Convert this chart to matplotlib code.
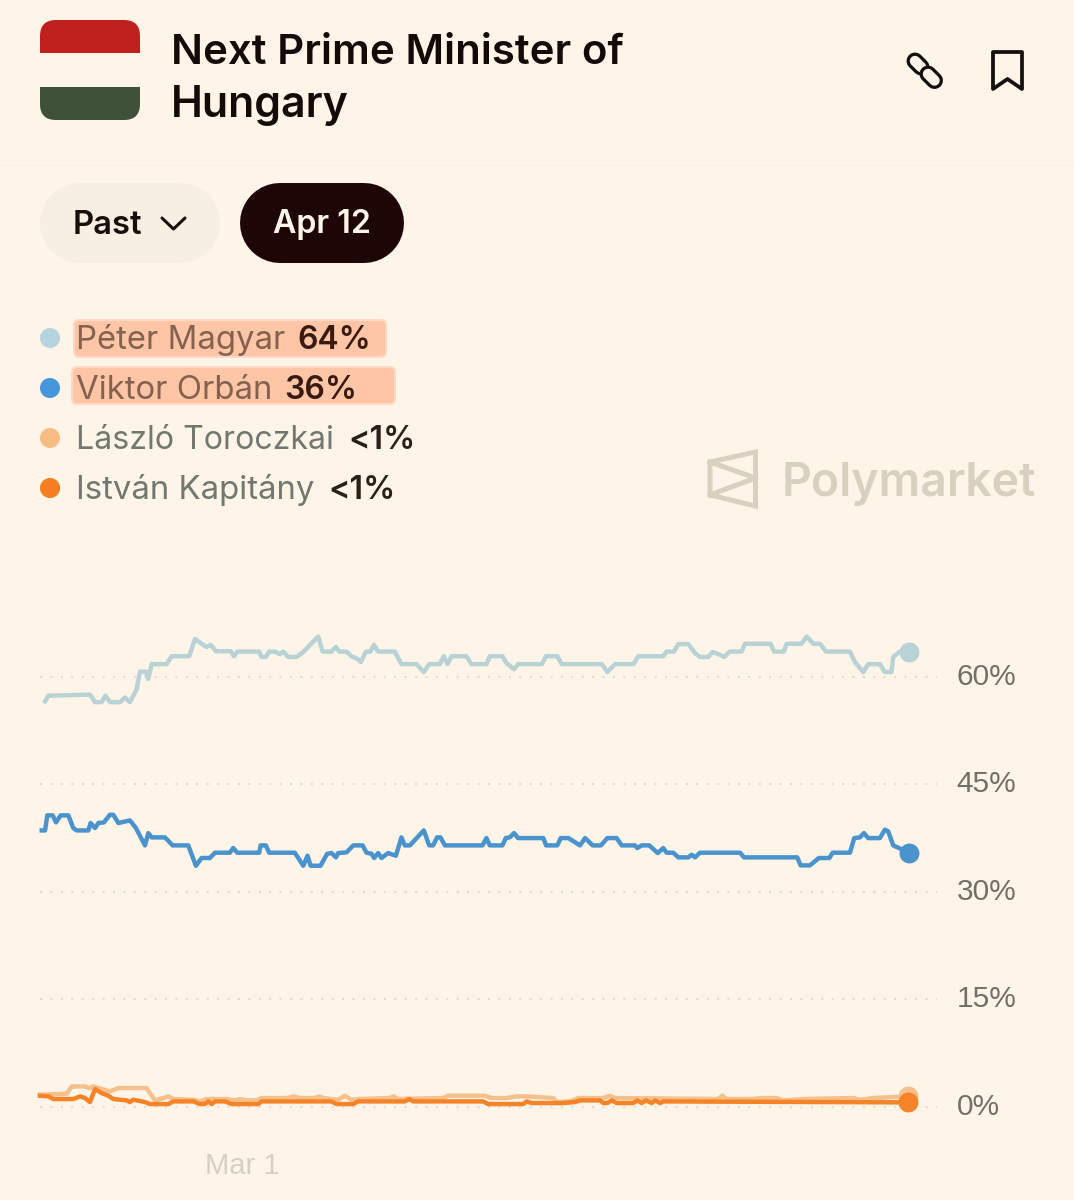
import matplotlib
matplotlib.use("Agg")
import matplotlib.pyplot as plt
from matplotlib.patches import FancyBboxPatch, Rectangle, Polygon, Circle
from matplotlib.transforms import ScaledTranslation

# days since the left edge of the chart, percent
magyar_days = [.32, .53, 3.15, 3.47, 3.89, 4.12, 4.41, 5.04, 5.36, 5.67, 6.09, 6.30, 6.68, 6.83, 7.04, 7.98, 8.30,
               9.41, 9.77, 10.29, 10.50, 10.76, 11.09, 12.04, 12.23, 12.44, 13.82, 13.97, 14.24, 14.45, 14.81, 15.13,
               15.34, 15.65, 16.18, 16.60, 17.54, 17.82, 18.38, 18.66, 18.87, 19.33, 19.64, 20.06, 20.23, 20.55, 20.84,
               21.05, 21.32, 22.37, 22.79, 23.74, 24.20, 24.54, 25.21, 25.46, 25.69, 25.95, 26.89, 27.21, 28.15, 28.36,
               29.16, 29.41, 29.89, 30.15, 31.64, 31.91, 32.62, 32.90, 35.42, 35.77, 36.26, 37.41, 37.73, 39.30, 39.51,
               39.98, 40.25, 40.88, 41.30, 41.61, 42.14, 42.41, 42.87, 43.13, 43.50, 44.24, 44.45, 46.07, 46.28, 46.91,
               47.08, 48.02, 48.34, 48.76, 49.18, 49.56, 51.07, 51.38, 51.91, 52.22, 52.96, 53.27, 53.69, 53.80, 54.22,
               54.79]
magyar_vals = [56.55, 57.35, 57.5, 56.45, 56.45, 57.35, 56.45, 56.45, 57.1, 56.45, 58.2, 60.7, 60.7, 59.7, 61.75,
               61.75, 62.85, 62.85, 65.25, 64.45, 64.15, 64.45, 63.55, 63.55, 62.85, 63.5, 63.5, 62.75, 62.75, 63.5, 63.5,
               63.15, 63.5, 62.75, 62.75, 63.45, 65.6, 63.5, 63.5, 64.15, 63.5, 63.5, 62.85, 62.45, 62.05, 63.5, 63.5,
               64.45, 63.5, 63.5, 61.75, 61.75, 60.65, 61.75, 61.75, 62.85, 61.75, 62.85, 62.85, 61.75, 61.75, 62.85,
               62.85, 61.9, 61.05, 61.75, 61.75, 62.85, 62.85, 61.75, 61.75, 60.65, 61.75, 61.75, 62.85, 62.85, 63.5,
               63.5, 64.55, 64.55, 63.3, 62.75, 62.75, 63.45, 63.05, 62.75, 63.5, 63.5, 64.6, 64.6, 63.5, 63.5, 64.6,
               64.6, 65.6, 64.6, 64.6, 63.5, 63.5, 62.05, 60.65, 61.75, 61.75, 60.65, 60.65, 62.75, 63.5, 63.5]

orban_days = [.11, .32, .46, .80, 1.01, 1.30, 1.79, 2.10, 2.31, 3.05, 3.19, 3.47, 3.68, 4.03, 4.41, 4.62, 4.94, 5.67,
              6.05, 6.62, 6.83, 7.04, 7.88, 8.36, 9.35, 9.83, 10.19, 10.71, 11.03, 11.97, 12.18, 12.44, 13.82, 13.91,
              14.24, 14.45, 16.07, 16.60, 16.87, 17.06, 17.69, 18.11, 18.38, 18.66, 18.80, 19.33, 19.75, 20.34, 20.59,
              20.90, 21.07, 21.32, 21.53, 21.95, 22.44, 22.79, 23.00, 23.32, 24.20, 24.54, 24.79, 25.04, 25.25, 25.53,
              27.90, 28.15, 28.36, 29.16, 29.37, 29.62, 29.89, 30.15, 31.74, 31.91, 32.62, 32.83, 33.32, 34.05, 34.37,
              34.85, 35.37, 35.77, 36.36, 36.68, 37.52, 37.66, 37.94, 38.42, 38.95, 39.30, 39.51, 39.93, 40.25, 40.88,
              41.09, 41.30, 41.61, 44.14, 44.39, 47.75, 47.96, 48.55, 49.11, 49.77, 49.98, 51.07, 51.34, 51.70, 51.95,
              52.22, 52.96, 53.27, 53.48, 53.80, 54.79]
orban_vals = [38.55, 38.55, 40.65, 40.65, 39.67, 40.65, 40.65, 38.88, 38.55, 38.55, 39.58, 38.88, 39.58, 39.67, 40.74,
              40.74, 39.58, 39.95, 38.88, 36.46, 38.18, 37.58, 37.58, 36.46, 36.46, 33.62, 34.7, 34.7, 35.44, 35.44,
              36.09, 35.44, 35.44, 36.46, 36.46, 35.44, 35.44, 33.62, 35.02, 33.62, 33.62, 35.3, 35.39, 34.79, 35.39,
              35.49, 36.46, 36.46, 35.44, 35.3, 34.7, 35.39, 34.7, 35.39, 35.02, 37.58, 36.46, 36.46, 38.55, 36.46,
              36.46, 37.58, 37.58, 36.46, 36.46, 37.48, 36.46, 36.46, 37.48, 37.58, 38.18, 37.48, 37.48, 36.46, 36.46,
              37.48, 37.48, 36.46, 37.48, 36.46, 36.46, 37.48, 37.48, 36.46, 36.46, 36.09, 36.46, 36.46, 35.39, 36.09,
              35.44, 35.44, 34.79, 34.79, 35.16, 34.79, 35.44, 35.44, 34.79, 34.79, 33.67, 33.67, 34.7, 34.7, 35.44,
              35.44, 37.48, 37.58, 38.18, 37.48, 37.48, 38.65, 38.42, 36.46, 35.44]

toroczkai_days = [0, 1.68, 2.0, 2.84, 3.11, 3.36, 4.41, 4.94, 6.72, 7.25, 7.77, 8.09, 8.40, 9.66, 10.08, 10.50, 11.76,
                  12.29, 12.61, 13.03, 13.66, 13.97, 15.55, 15.97, 16.39, 17.33, 17.61, 17.86, 18.80, 19.22, 19.64,
                  20.06, 22.06, 22.31, 22.58, 25.42, 25.74, 28.05, 28.47, 29.41, 30.04, 30.67, 31.32, 32.37, 32.58,
                  33.42, 33.95, 35.52, 35.94, 36.26, 42.77, 43.02, 43.30, 44.98, 45.40, 46.45, 46.87, 48.13, 51.28,
                  51.70, 52.54, 54.74]
toroczkai_vals = [1.67, 1.81, 2.83, 2.83, 2.6, 2.83, 2.14, 2.6, 2.6, .88, 1.21, 1.44, 1.07, .97, .74, 1.07, 1.07, .88,
                  1.07, .88, .88, 1.21, 1.21, 1.44, 1.21, 1.21, 1.44, 1.21, .97, 1.53, .97, 1.07, 1.21, 1.44, 1.07,
                  1.21, 1.53, 1.53, 1.21, 1.21, 1.44, 1.44, 1.35, 1.21, .65, .74, 1.21, 1.21, 1.53, 1.21, 1.07, 1.53,
                  1.07, 1.07, 1.21, 1.21, .88, 1.07, 1.21, .97, 1.21, 1.44]

kapitany_days = [0, .53, .84, 2.10, 2.52, 2.84, 3.15, 3.47, 3.89, 4.31, 4.62, 5.46, 5.67, 5.88, 6.62, 6.93, 8.09, 8.40,
                 9.66, 10.08, 10.40, 10.61, 10.82, 11.03, 11.66, 12.08, 13.76, 13.97, 18.38, 18.70, 19.75, 20.06, 23.00,
                 23.28, 23.53, 27.94, 28.26, 30.46, 30.69, 31.0, 33.0, 33.74, 34.05, 35.31, 35.52, 35.77, 36.05, 36.36,
                 37.41, 37.66, 37.94, 38.21, 38.57, 38.78, 39.09, 39.30, 54.74]
kapitany_vals = [1.53, 1.44, 1.07, 1.07, 1.44, 1.21, .65, 2.46, 1.9, 1.53, 1.07, .88, .65, .97, .65, .37, .37, .74, .74,
                 .37, .37, .74, .37, .74, .74, .37, .37, .74, .74, .37, .37, .74, .74, 1.07, .74, .74, .37, .37, .74,
                 .51, .51, .65, .88, .88, .51, .51, .88, .51, .51, .88, .51, .88, .51, .88, .51, .74, .6]

y_ticks = [0, 15, 30, 45, 60]
y_labels = ["0%", "15%", "30%", "45%", "60%"]
mar1_day = 12.74

names = ["Péter Magyar", "Viktor Orbán", "László Toroczkai", "István Kapitány"]
shares = ["64%", "36%", "<1%", "<1%"]

BG = "#fef5e8"
W, H = 1074, 1200
line_colors = ["#b8d2d6", "#4a93cd", "#f5c08c", "#f58428"]
dot_colors = ["#b6d4df", "#4596da", "#f7bd82", "#f77f20"]

plt.rcParams["font.family"] = ["Inter", "DejaVu Sans"]

fig = plt.figure(figsize=(W / 100, H / 100), dpi=100, facecolor=BG)

# page furniture, drawn in pixel coordinates
ui = fig.add_axes([0, 0, 1, 1])
ui.set_xlim(0, W)
ui.set_ylim(H, 0)
ui.axis("off")


def rounded(x0, y0, x1, y1, r, color, alpha=1):
    p = FancyBboxPatch((x0 + r, y0 + r), x1 - x0 - 2 * r, y1 - y0 - 2 * r, boxstyle="round,pad=%s,rounding_size=%s" % (r, r),
                       fc=color, ec="none", alpha=alpha)
    ui.add_patch(p)
    return p


def capsule(x0, x1, y, height, color):
    r = height / 2
    ui.plot([x0 + r, x1 - r], [y, y], color=color, lw=height * 0.72, solid_capstyle="round")


# flag
flag_clip = FancyBboxPatch((56, 36), 68, 68, boxstyle="round,pad=16,rounding_size=16", fc="none", ec="none")
ui.add_patch(flag_clip)
for y0, y1, col in [(20, 53, "#c0211f"), (87, 120, "#3f5139")]:
    r = Rectangle((40, y0), 100, y1 - y0, fc=col, ec="none")
    ui.add_patch(r)
    r.set_clip_path(flag_clip)

ui.text(171, 64, "Next Prime Minister of", fontsize=30.2, fontweight="semibold", color="#160a08", va="baseline")
ui.text(171, 117, "Hungary", fontsize=30.8, fontweight="semibold", color="#160a08", va="baseline")

ui.plot([0, W], [165, 165], color="#fcf2e3", lw=1)

# link icon
for a, b in [((915, 61), (921, 67)), ((928, 74), (934.5, 80.5))]:
    ui.plot([a[0], b[0]], [a[1], b[1]], color="#141010", lw=12.2, solid_capstyle="round", zorder=3)
    ui.plot([a[0], b[0]], [a[1], b[1]], color=BG, lw=7.5, solid_capstyle="round", zorder=3)

# bookmark icon
ui.add_patch(Polygon([(993, 52), (1022, 52), (1022, 89), (1007.5, 79), (993, 89)], closed=True, fc="none", ec="#141010",
                     lw=2.7, joinstyle="round"))

# buttons
capsule(40, 220, 223, 80, "#f6efe2")
capsule(240, 404, 223, 80, "#1e0606")
ui.text(107.5, 225, "Past", fontsize=23.6, fontweight="semibold", color="#1a0e0c", ha="center", va="center")
ui.plot([162, 173.5, 185], [218, 229, 218], color="#1a0e0c", lw=2.2, solid_capstyle="round", solid_joinstyle="round")
ui.text(322, 225, "Apr 12", fontsize=23.2, fontweight="semibold", color="#fdf5ea", ha="center", va="center")

# legend
for box in [(74, 320, 386, 357), (72, 367, 395, 404)]:
    rounded(box[0] - 1, box[1] - 1, box[2] + 1, box[3] + 1, 6, "#fed9c4")
    rounded(box[0] + 1, box[1] + 1, box[2] - 1, box[3] - 1, 4, "#fec5a7")
name_colors = ["#85624e", "#85624e", "#727870", "#727870"]
name_sizes = [23.7, 23.7, 23.1, 23.7]
share_x = [298, 285, 349, 329]
share_colors = ["#3a1a10", "#3a1a10", "#2a201a", "#2a201a"]
for i in range(4):
    y = 338 + 50 * i
    ui.add_patch(Circle((50, y), 10, fc=dot_colors[i], ec="none"))
    ui.text(76, y + 11, names[i], fontsize=name_sizes[i], color=name_colors[i], va="baseline")
    ui.text(share_x[i] - 1, y + 11, shares[i], fontsize=23, fontweight="semibold", color=share_colors[i], va="baseline")

# watermark
wm = "#d8d1c0"
ui.add_patch(Polygon([(710, 462), (755.5, 452), (755.5, 506), (710, 495)], closed=True, fc="none", ec=wm, lw=3.6))
ui.plot([710, 755.5, 710], [462, 478, 495], color=wm, lw=3.6)
ui.text(782, 496, "Polymarket", fontsize=33.4, fontweight="semibold", color=wm, va="baseline")

# chart, axes span x 40-937 and y 600-1130 px
ax = fig.add_axes([40 / W, 1 - 1130 / H, (937 - 40) / W, 530 / H])
ax.patch.set_alpha(0)
ax.set_xlim(0, 56.56)
ax.set_ylim(-3.25, 70.7)
for s in ax.spines.values():
    s.set_visible(False)
ax.yaxis.tick_right()
ax.set_yticks(y_ticks, y_labels, family="Liberation Sans", fontsize=21.5, color="#706f68")
ax.set_xticks([mar1_day], ["Mar 1"], family="Liberation Sans", fontsize=21, color="#d6d0c4")
ax.tick_params(axis="y", length=0, pad=14)
ax.tick_params(axis="x", length=0, pad=16)
ax.grid(axis="y", linestyle=(0, (1, 4)), lw=1.5, color="#e0dccf")
ax.set_axisbelow(True)
# labels sit a little above their gridlines
for lab in ax.get_yticklabels():
    lab.set_transform(lab.get_transform() + ScaledTranslation(0, 0.03, fig.dpi_scale_trans))

series = [(magyar_days, magyar_vals), (orban_days, orban_vals), (toroczkai_days, toroczkai_vals), (kapitany_days, kapitany_vals)]
for (xs, ys), col in zip(series, line_colors):
    ax.plot(xs, ys, color=col, lw=3.2, solid_joinstyle="round", clip_on=False)
    ax.scatter(xs[-1], ys[-1], s=205, color=col, zorder=4, clip_on=False, linewidths=0)

fig.savefig("out.png", dpi=100, facecolor=BG)
